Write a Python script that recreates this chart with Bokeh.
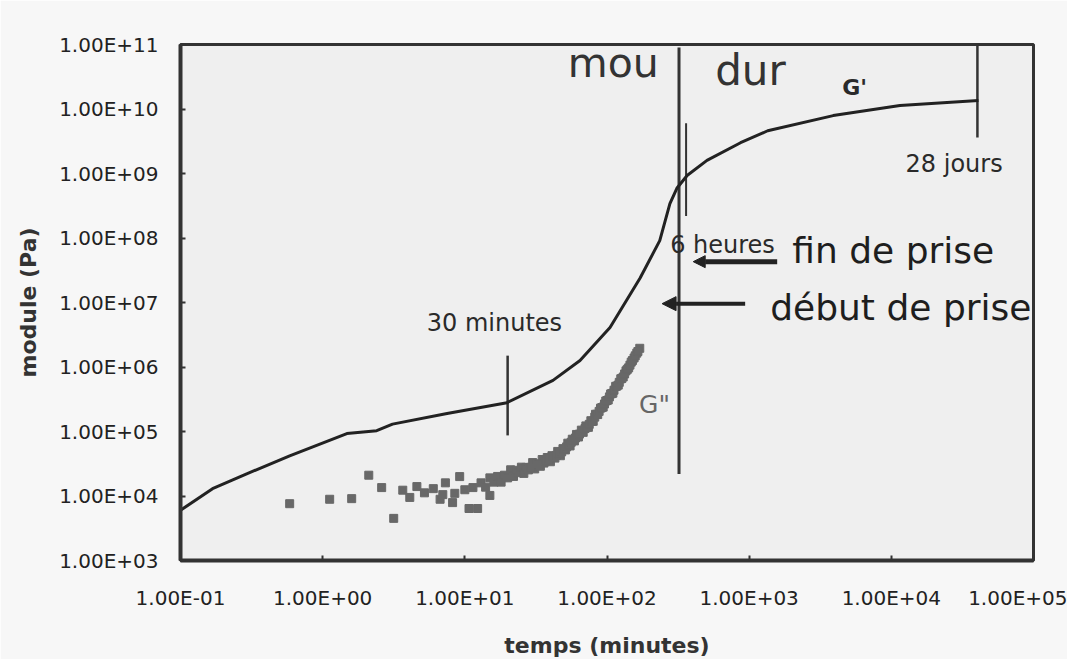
from bokeh.plotting import figure
from bokeh.models import FixedTicker, Arrow, NormalHead, ColumnDataSource
from bokeh.embed import file_html
from bokeh.resources import INLINE
from bokeh.core.properties import value

# ---- axes ticks ----
x_ticks = [1e-1, 1e0, 1e1, 1e2, 1e3, 1e4, 1e5]
x_labels = ["1.00E-01", "1.00E+00", "1.00E+01", "1.00E+02", "1.00E+03", "1.00E+04", "1.00E+05"]
y_ticks = [1e3, 1e4, 1e5, 1e6, 1e7, 1e8, 1e9, 1e10, 1e11]
y_labels = ["1.00E+03", "1.00E+04", "1.00E+05", "1.00E+06", "1.00E+07",
            "1.00E+08", "1.00E+09", "1.00E+10", "1.00E+11"]

# ---- G' (storage modulus) curve ----
gp_t = [0.1, 0.168, 0.292, 0.586, 1.48, 2.4, 3.1, 7.5, 19.8, 41.7, 64.6, 105, 171,
        235, 277, 310, 366, 505, 870, 1350, 3900, 11500, 41000]
gp_mod = [6.0e3, 1.3e4, 2.2e4, 4.2e4, 9.3e4, 1.03e5, 1.3e5, 1.9e5, 2.8e5, 6.2e5,
          1.26e6, 4.1e6, 2.4e7, 9.1e7, 3.4e8, 5.9e8, 9.3e8, 1.6e9, 3.0e9, 4.6e9,
          7.9e9, 1.13e10, 1.35e10]

# ---- G'' (loss modulus) points ----
gpp_t = [0.586, 1.12, 1.6, 2.11, 2.6, 3.16, 3.66, 4.1, 4.6, 5.2, 6.0, 6.7, 7.3, 8.2,
         9.2, 10.7, 12.3, 15, 7.0, 8.5, 10.0, 11.4,
         13, 14, 15, 16, 17, 18, 19, 20, 21, 22, 23, 24, 25, 26, 27, 28, 30, 31, 32,
         34, 35, 36, 38, 40, 41, 43, 45, 47, 49, 51, 53, 55, 57, 59, 61, 63, 66, 68,
         71, 74, 77, 80, 83, 86, 90, 94, 98, 102, 106, 110, 115, 120, 125, 130, 136,
         142, 148, 155, 162, 170,
         29, 33, 37, 39, 42, 44, 46, 48, 50, 52, 54, 56, 58, 60, 62, 64, 67, 70, 72,
         75, 78, 82, 85, 88,
         92, 96, 100, 104, 108, 112, 117, 122, 127, 133, 139, 145, 151, 158, 165]
gpp_mod = [7.6e3, 8.9e3, 9.1e3, 2.1e4, 1.35e4, 4.5e3, 1.23e4, 9.5e3, 1.4e4, 1.12e4,
           1.3e4, 8.9e3, 1.6e4, 7.9e3, 2.0e4, 6.4e3, 6.4e3, 1.02e4, 1.05e4, 1.1e4,
           1.25e4, 1.35e4,
           1.60e4, 1.37e4, 1.91e4, 1.64e4, 2.01e4, 1.64e4, 2.10e4, 1.91e4, 2.55e4,
           2.01e4, 2.50e4, 2.30e4, 2.80e4, 2.24e4, 2.77e4, 2.54e4, 3.30e4, 2.63e4,
           3.16e4, 2.89e4, 3.68e4, 3.24e4, 3.95e4, 3.40e4, 4.22e4, 3.87e4, 4.91e4,
           4.21e4, 5.42e4, 5.18e4, 6.59e4, 5.97e4, 7.60e4, 7.14e4, 9.0e4, 8.22e4,
           1.05e5, 9.7e4, 1.22e5, 1.16e5, 1.47e5, 1.44e5, 1.85e5, 1.83e5, 2.30e5,
           2.39e5, 2.97e5, 3.08e5, 3.82e5, 3.93e5, 5.01e5, 5.24e5, 6.56e5, 7.0e5,
           8.71e5, 9.7e5, 1.19e6, 1.38e6, 1.64e6, 1.95e6,
           2.79e4, 3.10e4, 3.49e4, 3.71e4, 4.04e4, 4.26e4, 4.49e4, 4.83e4, 5.30e4,
           5.77e4, 6.28e4, 6.82e4, 7.35e4, 7.93e4, 8.49e4, 9.12e4, 1.01e5, 1.11e5,
           1.17e5, 1.29e5, 1.43e5, 1.67e5, 1.85e5, 2.05e5,
           2.35e5, 2.67e5, 3.02e5, 3.44e5, 3.87e5, 4.37e5, 5.05e5, 5.78e5, 6.62e5,
           7.8e5, 9.2e5, 1.07e6, 1.26e6, 1.49e6, 1.74e6]

# ---- vertical marker lines (30 min, mou/dur, 6 h, 28 days) ----
mark_t = [20, 321, 360, 40320]
mark_lo = [8.7e4, 2.2e4, 2.2e8, 3.6e9]
mark_hi = [1.5e6, 9.0e10, 6.0e9, 1.0e11]
mark_width = [2.5, 3, 2, 2.5]

# ---- annotation texts ----
ann_text = ["mou", "dur", "G'", "28 jours", "6 heures", "fin de prise",
            "début de prise", "30 minutes", "G\""]
ann_t = [53, 577, 4520, 12600, 278, 2010, 1406, 5.4, 168]
ann_mod = [5.16e10, 3.95e10, 2.15e10, 1.40e9, 7.79e7, 6.4e7, 8.36e6, 4.81e6, 2.62e5]
ann_size = ["41px", "42px", "22px", "24px", "24px", "36px", "36px", "24px", "25px"]
ann_color = ["#333333", "#333333", "#2a2a2a", "#2a2a2a", "#2a2a2a", "#1e1e1e",
             "#1e1e1e", "#2a2a2a", "#666666"]
ann_style = ["normal", "normal", "bold", "normal", "normal", "normal", "normal",
             "normal", "normal"]

# ---- arrows (fin de prise, début de prise) ----
arr_t_start = [1574, 937]
arr_t_end = [404, 244]
arr_mod = [4.3e7, 9.6e6]

p = figure(frame_width=853, frame_height=516, x_axis_type="log", y_axis_type="log",
           x_range=(0.1, 1e5), y_range=(1e3, 1e11),
           output_backend="svg", toolbar_location=None,
           min_border_left=180, min_border_right=34, min_border_top=44,
           min_border_bottom=96)
p.background_fill_color = "#efefef"
p.border_fill_color = "#f7f7f7"
p.outline_line_color = "#333333"
p.outline_line_width = 3
p.grid.grid_line_color = None

for ax, ticks, labels in ((p.xaxis[0], x_ticks, x_labels), (p.yaxis[0], y_ticks, y_labels)):
    ax.ticker = FixedTicker(ticks=ticks)
    ax.major_label_overrides = dict(zip(ticks, labels))
    ax.minor_tick_line_color = None
    ax.major_tick_in = 5
    ax.major_tick_out = 0
    ax.major_tick_line_color = "#333333"
    ax.major_tick_line_width = 2
    ax.axis_line_color = "#333333"
    ax.axis_line_width = 4
    ax.major_label_text_font = "DejaVu Sans"
    ax.major_label_text_font_size = "20px"
    ax.major_label_text_color = "#222222"
    ax.axis_label_text_font = "DejaVu Sans"
    ax.axis_label_text_font_style = "bold"
    ax.axis_label_text_font_size = "22px"
    ax.axis_label_text_color = "#333333"

p.xaxis.axis_label = "temps (minutes)"
p.yaxis.axis_label = "module (Pa)"
p.xaxis.major_label_standoff = 25
p.yaxis.major_label_standoff = 22
p.xaxis.axis_label_standoff = 20
p.yaxis.axis_label_standoff = 15

# vertical marker lines
p.segment(x0=mark_t, y0=mark_lo, x1=mark_t, y1=mark_hi,
          line_color="#333333", line_width=mark_width)

# G' curve
p.line(gp_t, gp_mod, line_color="#222222", line_width=3)

# G'' points
p.scatter(gpp_t, gpp_mod, marker="square", size=8, fill_color="#686868",
          line_color="#686868")

# arrows
for xs, xe, ym, lw, hs in zip(arr_t_start, arr_t_end, arr_mod, [5, 4], [12, 14]):
    p.add_layout(Arrow(end=NormalHead(size=hs, fill_color="#222222", line_color="#222222"),
                       x_start=xs, x_end=xe, y_start=ym, y_end=ym,
                       line_color="#222222", line_width=lw))

# texts
src = ColumnDataSource(dict(x=ann_t, y=ann_mod, text=ann_text, size=ann_size,
                            color=ann_color, style=ann_style))
p.text(x="x", y="y", text="text", source=src, text_font=value("DejaVu Sans"),
       text_font_size="size", text_color="color", text_font_style="style",
       text_align="left", text_baseline="alphabetic")

open("out.html", "w").write(file_html(p, INLINE))
